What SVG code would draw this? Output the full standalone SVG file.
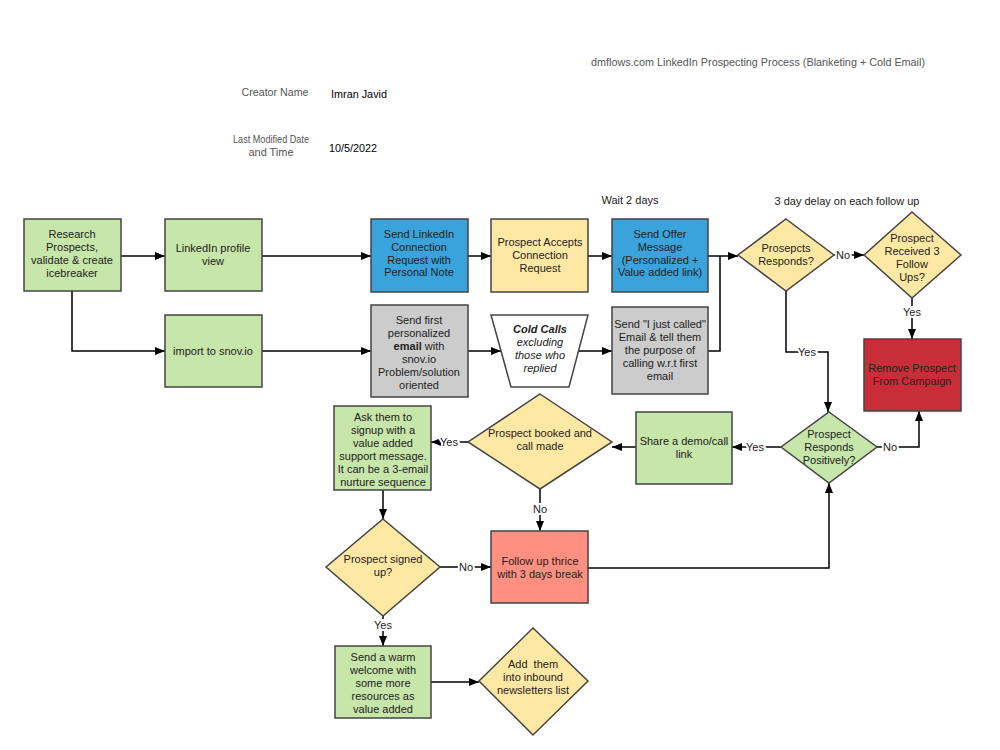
<svg xmlns="http://www.w3.org/2000/svg" width="1000" height="750" viewBox="0 0 1000 750">
<defs>
<marker id="arr" viewBox="0 0 10 8" refX="10" refY="4" markerWidth="10" markerHeight="8" markerUnits="userSpaceOnUse" orient="auto">
<path d="M0,0 L10,4 L0,8 z" fill="#000"/>
</marker>
<style>
text{font-family:"Liberation Sans",Arial,sans-serif;font-size:11px;fill:#222;text-anchor:middle}
.hdr{fill:#555}
.box{stroke:#444;stroke-width:1.5}
.g{fill:#C7E6AA}
.b{fill:#3AA3DB}
.y{fill:#FFE8A3}
.gr{fill:#CCCCCC}
.r{fill:#C92D38}
.s{fill:#FF8F80}
.w{fill:#FFFFFF}
.c{fill:none;stroke:#000;stroke-width:1.5}
.lbl{paint-order:stroke;stroke:#fff;stroke-width:4px;fill:#222}
</style>
</defs>
<rect width="1000" height="750" fill="#fff"/>

<g id="header">
<text class="hdr" x="758" y="66" textLength="334" lengthAdjust="spacingAndGlyphs">dmflows.com LinkedIn Prospecting Process (Blanketing + Cold Email)</text>
<text class="hdr" x="275" y="96" textLength="67" lengthAdjust="spacingAndGlyphs">Creator Name</text>
<text x="359" y="98" style="fill:#000" textLength="56" lengthAdjust="spacingAndGlyphs">Imran Javid</text>
<text class="hdr" x="271" y="143" textLength="76" lengthAdjust="spacingAndGlyphs">Last Modified Date</text>
<text class="hdr" x="271" y="156" textLength="45" lengthAdjust="spacingAndGlyphs">and Time</text>
<text x="353" y="152" style="fill:#000" textLength="48" lengthAdjust="spacingAndGlyphs">10/5/2022</text>
<text x="630" y="204">Wait 2 days</text>
<text x="847" y="205">3 day delay on each follow up</text>
</g>

<g id="connectors">
<path class="c" d="M121,256 H165" marker-end="url(#arr)"/>
<path class="c" d="M72,291 V351 H165" marker-end="url(#arr)"/>
<path class="c" d="M262,256 H371" marker-end="url(#arr)"/>
<path class="c" d="M262,351 H371" marker-end="url(#arr)"/>
<path class="c" d="M468,256 H491" marker-end="url(#arr)"/>
<path class="c" d="M588,256 H612" marker-end="url(#arr)"/>
<path class="c" d="M708,256 H738" marker-end="url(#arr)"/>
<path class="c" d="M468,351 H501" marker-end="url(#arr)"/>
<path class="c" d="M579,351 H612" marker-end="url(#arr)"/>
<path class="c" d="M708,351 H720 V256"/>
<path class="c" d="M834,255 H864" marker-end="url(#arr)"/>
<path class="c" d="M912,298 V339" marker-end="url(#arr)"/>
<path class="c" d="M786,291 V352 H828 V412" marker-end="url(#arr)"/>
<path class="c" d="M781,447 H732" marker-end="url(#arr)"/>
<path class="c" d="M877,447 H919 V411" marker-end="url(#arr)"/>
<path class="c" d="M636,447 H612" marker-end="url(#arr)"/>
<path class="c" d="M468,442 H431" marker-end="url(#arr)"/>
<path class="c" d="M540,489 V531" marker-end="url(#arr)"/>
<path class="c" d="M383,490 V519" marker-end="url(#arr)"/>
<path class="c" d="M440,567 H491" marker-end="url(#arr)"/>
<path class="c" d="M383,616 V646" marker-end="url(#arr)"/>
<path class="c" d="M431,682 H479" marker-end="url(#arr)"/>
<path class="c" d="M588,568 H829 V483" marker-end="url(#arr)"/>
<text class="lbl" x="843" y="259">No</text>
<text class="lbl" x="912" y="316">Yes</text>
<text class="lbl" x="807" y="356">Yes</text>
<text class="lbl" x="755" y="451">Yes</text>
<text class="lbl" x="890" y="451">No</text>
<text class="lbl" x="449" y="446">Yes</text>
<text class="lbl" x="540" y="513">No</text>
<text class="lbl" x="466" y="571">No</text>
<text class="lbl" x="383" y="629">Yes</text>
</g>

<g id="research">
<rect class="box g" x="24" y="219" width="97" height="72"/>
<text x="72" y="238">Research</text>
<text x="72" y="251">Prospects,</text>
<text x="72" y="264">validate &amp; create</text>
<text x="72" y="277">icebreaker</text>
</g>
<g id="linkedin-view">
<rect class="box g" x="165" y="219" width="97" height="72"/>
<text x="213" y="252">LinkedIn profile</text>
<text x="213" y="265">view</text>
</g>
<g id="import-snov">
<rect class="box g" x="165" y="315" width="97" height="72"/>
<text x="213" y="355">import to snov.io</text>
</g>
<g id="send-connection">
<rect class="box b" x="371" y="219" width="97" height="73"/>
<text x="419" y="238">Send LinkedIn</text>
<text x="419" y="251">Connection</text>
<text x="419" y="264">Request with</text>
<text x="419" y="276">Personal Note</text>
</g>
<g id="accepts">
<rect class="box y" x="491" y="219" width="97" height="73"/>
<text x="540" y="246">Prospect Accepts</text>
<text x="540" y="259">Connection</text>
<text x="540" y="272">Request</text>
</g>
<g id="send-offer">
<rect class="box b" x="612" y="219" width="96" height="73"/>
<text x="660" y="238">Send Offer</text>
<text x="660" y="251">Message</text>
<text x="660" y="264">(Personalized +</text>
<text x="660" y="276">Value added link)</text>
</g>
<g id="send-email">
<rect class="box gr" x="371" y="305" width="97" height="92"/>
<text x="419" y="324">Send first</text>
<text x="419" y="337">personalized</text>
<text x="419" y="350"><tspan font-weight="bold">email</tspan> with</text>
<text x="419" y="363">snov.io</text>
<text x="419" y="376">Problem/solution</text>
<text x="419" y="389">oriented</text>
</g>
<g id="cold-calls">
<path class="box w" d="M491,315 H588 L569,387 H511 Z"/>
<text x="540" y="333" font-weight="bold" font-style="italic">Cold Calls</text>
<text x="540" y="346" font-style="italic">excluding</text>
<text x="540" y="359" font-style="italic">those who</text>
<text x="540" y="372" font-style="italic">replied</text>
</g>
<g id="just-called">
<rect class="box gr" x="612" y="307" width="96" height="87"/>
<text x="660" y="328">Send "I just called"</text>
<text x="660" y="341">Email &amp; tell them</text>
<text x="660" y="354">the purpose of</text>
<text x="660" y="367">calling w.r.t first</text>
<text x="660" y="380">email</text>
</g>
<g id="responds">
<path class="box y" d="M786,219 L834,255 L786,291 L738,255 Z"/>
<text x="786" y="252">Prosepcts</text>
<text x="786" y="265">Responds?</text>
</g>
<g id="received-3">
<path class="box y" d="M912,212 L961,255 L912,298 L864,255 Z"/>
<text x="912" y="242">Prospect</text>
<text x="912" y="255">Received 3</text>
<text x="912" y="268">Follow</text>
<text x="912" y="281">Ups?</text>
</g>
<g id="remove">
<rect class="box r" x="864" y="339" width="97" height="72"/>
<text x="912" y="372">Remove Prospect</text>
<text x="912" y="385">From Campaign</text>
</g>
<g id="positively">
<path class="box g" d="M829,412 L877,447 L829,483 L781,447 Z"/>
<text x="829" y="438">Prospect</text>
<text x="829" y="451">Responds</text>
<text x="829" y="464">Positively?</text>
</g>
<g id="share-demo">
<rect class="box g" x="636" y="412" width="96" height="72"/>
<text x="684" y="445">Share a demo/call</text>
<text x="684" y="458">link</text>
</g>
<g id="booked">
<path class="box y" d="M540,394 L612,442 L540,489 L468,442 Z"/>
<text x="540" y="437">Prospect booked and</text>
<text x="540" y="450">call made</text>
</g>
<g id="ask-signup">
<rect class="box g" x="334" y="406" width="97" height="84"/>
<text x="383" y="421">Ask them to</text>
<text x="383" y="434">signup with a</text>
<text x="383" y="447">value added</text>
<text x="383" y="460">support message.</text>
<text x="383" y="473">It can be a 3-email</text>
<text x="383" y="486">nurture sequence</text>
</g>
<g id="signed-up">
<path class="box y" d="M383,519 L440,567 L383,616 L326,567 Z"/>
<text x="383" y="563">Prospect signed</text>
<text x="383" y="576">up?</text>
</g>
<g id="follow-up">
<rect class="box s" x="491" y="531" width="97" height="72"/>
<text x="540" y="565">Follow up thrice</text>
<text x="540" y="578">with 3 days break</text>
</g>
<g id="warm-welcome">
<rect class="box g" x="335" y="646" width="96" height="72"/>
<text x="383" y="661">Send a warm</text>
<text x="383" y="674">welcome with</text>
<text x="383" y="687">some more</text>
<text x="383" y="700">resources as</text>
<text x="383" y="713">value added</text>
</g>
<g id="newsletter">
<path class="box y" d="M533,628 L588,681 L533,735 L479,681 Z"/>
<text x="533" y="668" xml:space="preserve">Add  them</text>
<text x="533" y="681">into inbound</text>
<text x="533" y="694">newsletters list</text>
</g>
</svg>
